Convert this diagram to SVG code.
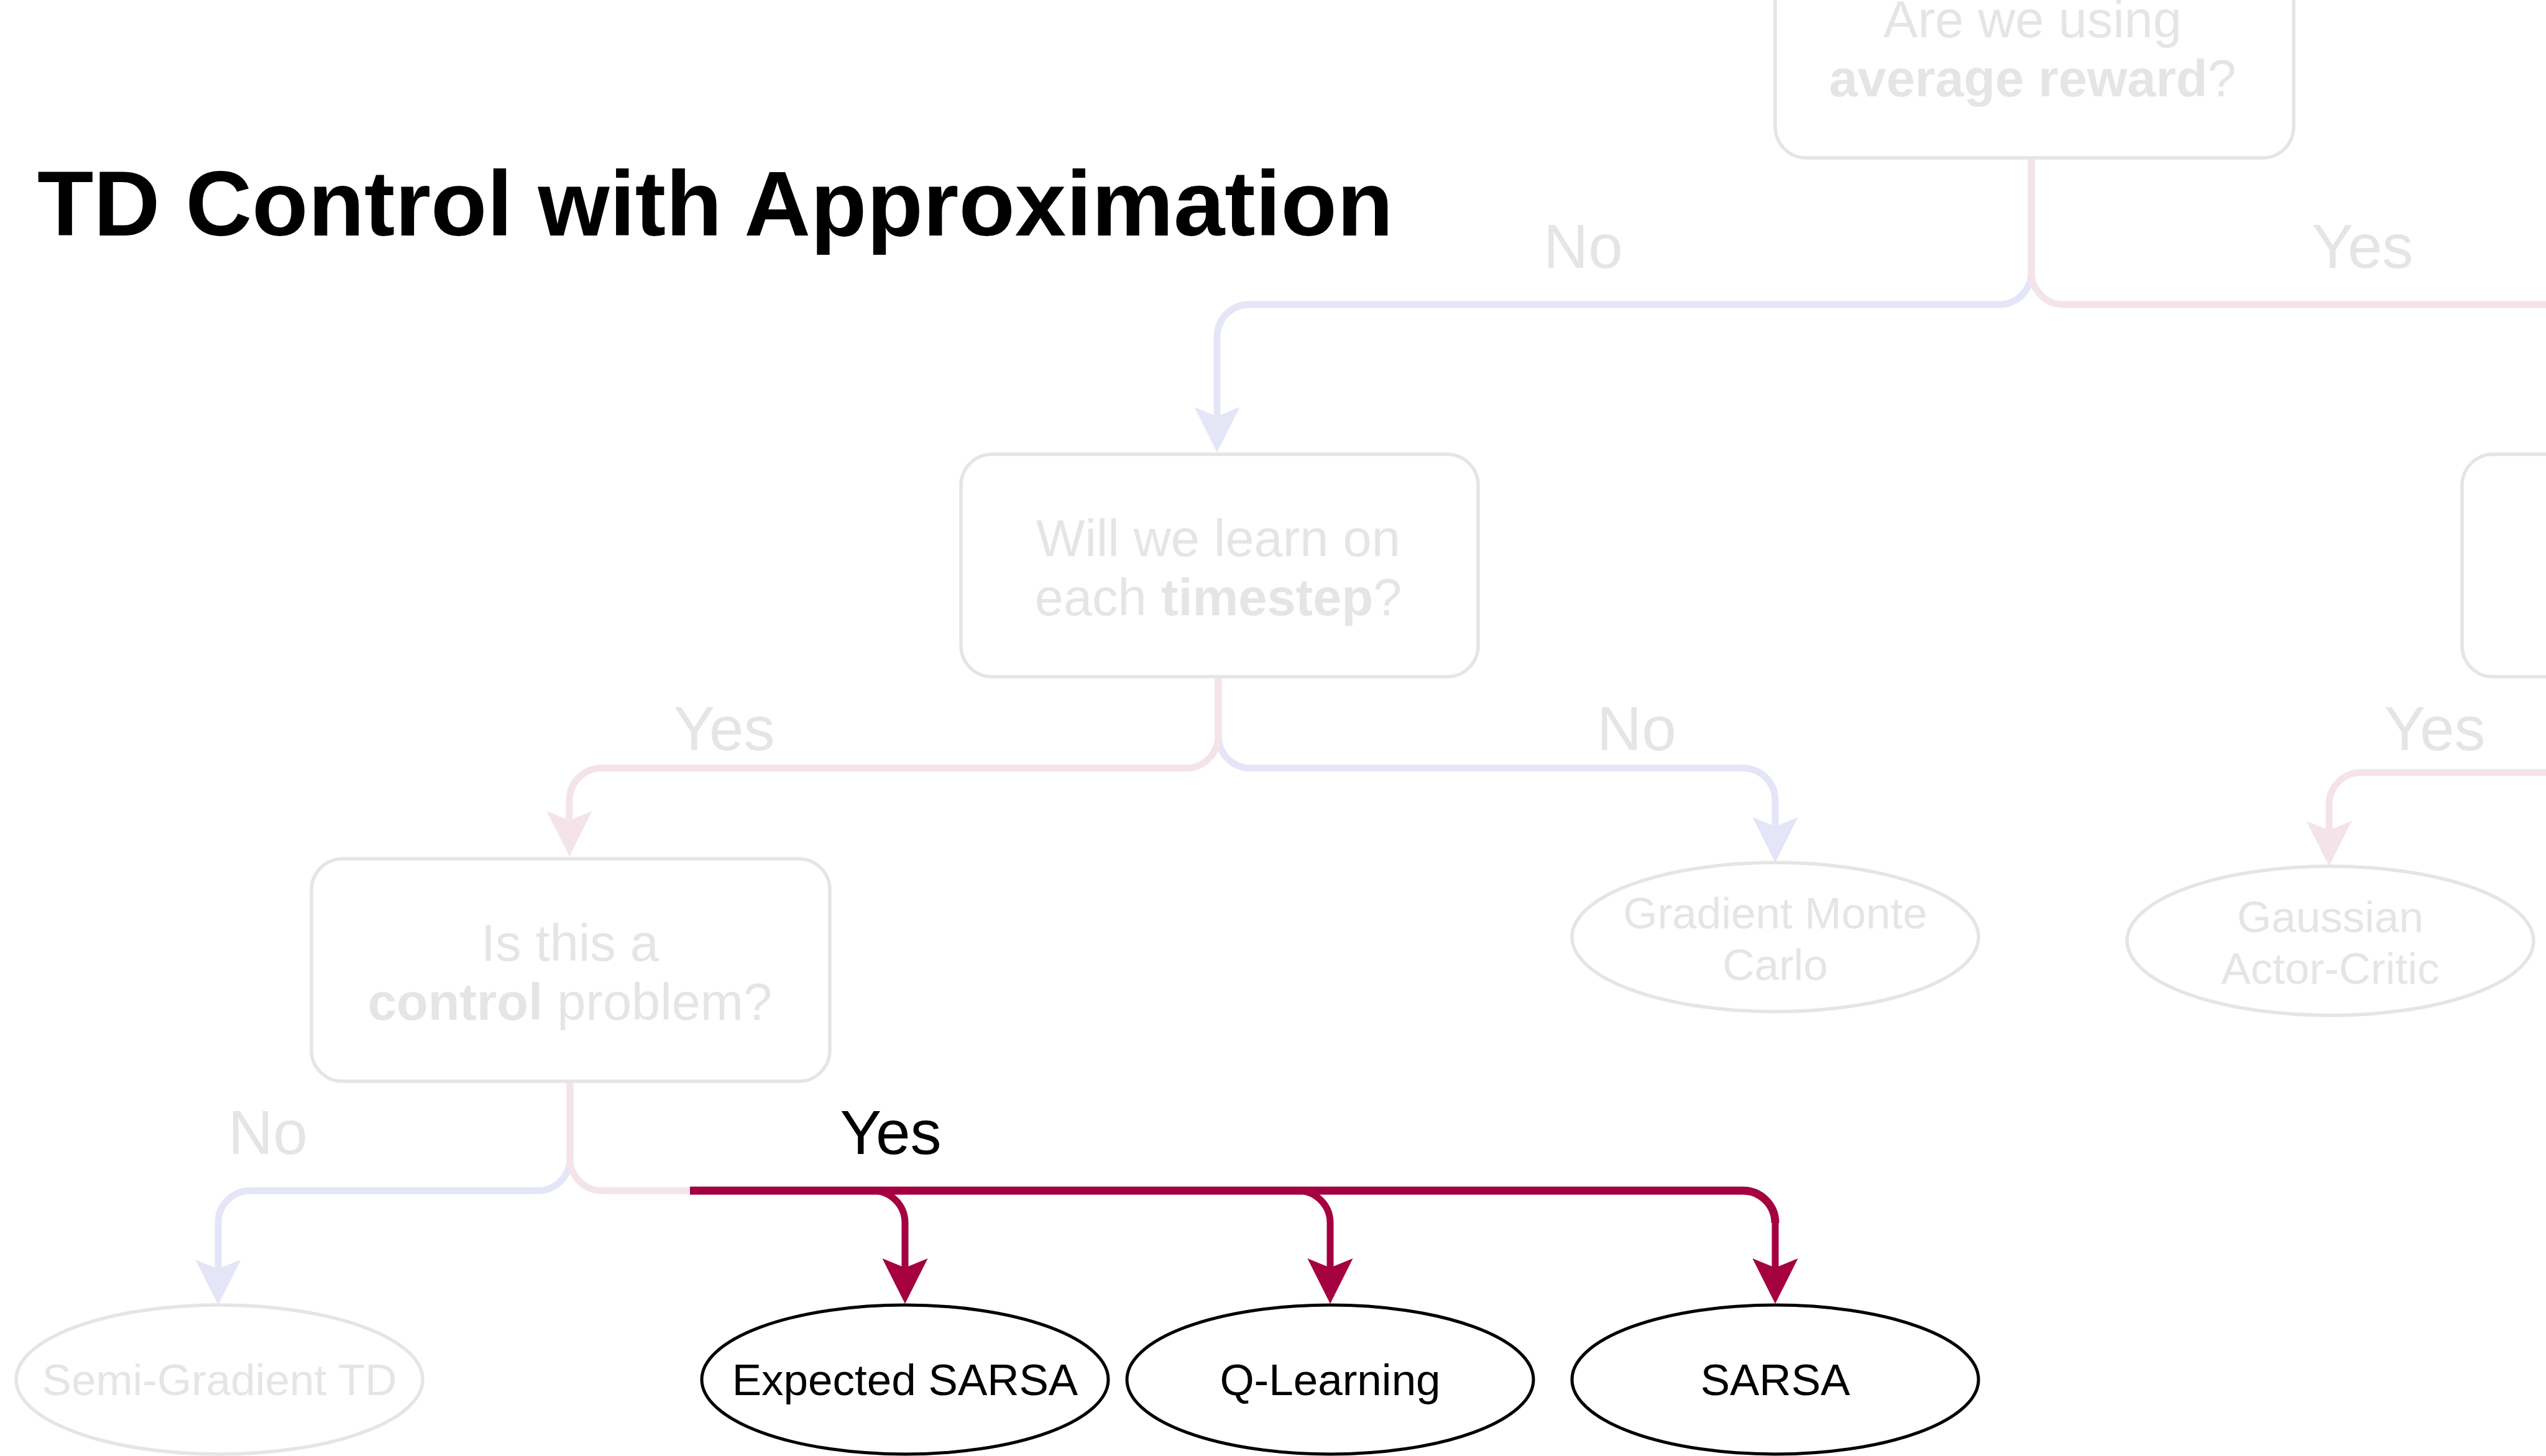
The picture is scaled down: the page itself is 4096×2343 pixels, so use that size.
<svg xmlns="http://www.w3.org/2000/svg" width="4096" height="2343" viewBox="0 0 4096 2343">
<defs>
<style>
text{font-family:"Liberation Sans",Arial,Helvetica,sans-serif;text-anchor:middle}
.title{font-size:148px;font-weight:bold;fill:#000;text-anchor:start}
.q{font-size:83px;fill:#e5e5e5}
.b{font-weight:bold}
.lbl{font-size:100px;fill:#e5e5e5}
.lblon{font-size:100px;fill:#000}
.et{font-size:71px;fill:#e5e5e5}
.eton{font-size:71px;fill:#000}
.box{fill:#fff;stroke:#e5e5e5;stroke-width:5.5}
.ell{fill:#fff;stroke:#e5e5e5;stroke-width:5.5}
.ellon{fill:#fff;stroke:#000;stroke-width:5}
.c{fill:none;stroke-width:11}
.lav{stroke:#e4e5f7}
.pink{stroke:#f4e4ea}
.red{stroke:#a50040;stroke-width:11}
.redmain{stroke:#a50040;stroke-width:13}
</style>
<marker id="aLav" viewBox="0 -40 80 80" markerWidth="80" markerHeight="80" refX="15" refY="0" orient="auto" markerUnits="userSpaceOnUse"><path d="M0,-36.6 L73,0 L0,36.6 L15,0 Z" fill="#e4e5f7"/></marker>
<marker id="aPink" viewBox="0 -40 80 80" markerWidth="80" markerHeight="80" refX="15" refY="0" orient="auto" markerUnits="userSpaceOnUse"><path d="M0,-36.6 L73,0 L0,36.6 L15,0 Z" fill="#f4e4ea"/></marker>
<marker id="aRed" viewBox="0 -40 80 80" markerWidth="80" markerHeight="80" refX="15" refY="0" orient="auto" markerUnits="userSpaceOnUse"><path d="M0,-36.6 L73,0 L0,36.6 L15,0 Z" fill="#a50040"/></marker>
</defs>
<rect width="4096" height="2343" fill="#fff"/>
<text class="title" x="60" y="379">TD Control with Approximation</text>

<g id="connectors">
<path class="c lav" d="M3268 254 V438 A52 52 0 0 1 3216 490 H2010 A52 52 0 0 0 1958 542 V670" marker-end="url(#aLav)"/>
<path class="c pink" d="M3268 254 V438 A52 52 0 0 0 3320 490 H4200"/>
<path class="c lav" d="M1960 1089 V1184 A52 52 0 0 0 2012 1236 H2804 A52 52 0 0 1 2856 1288 V1330" marker-end="url(#aLav)"/>
<path class="c pink" d="M1960 1089 V1184 A52 52 0 0 1 1908 1236 H968 A52 52 0 0 0 916 1288 V1320" marker-end="url(#aPink)"/>
<path class="c pink" d="M4200 1243 H3799 A52 52 0 0 0 3747 1295 V1336" marker-end="url(#aPink)"/>
<path class="c lav" d="M917 1740 V1864 A52 52 0 0 1 865 1916 H403 A52 52 0 0 0 351 1968 V2042" marker-end="url(#aLav)"/>
<path class="c pink" d="M917 1740 V1864 A52 52 0 0 0 969 1916 H1115"/>
<path class="c red" d="M1380 1916 H1404 A52 52 0 0 1 1456 1968 V2040" marker-end="url(#aRed)"/>
<path class="c red" d="M2068 1916 H2088 A52 52 0 0 1 2140 1968 V2040" marker-end="url(#aRed)"/>
<path class="c redmain" d="M1110 1916 H2804 A52 52 0 0 1 2856 1968"/>
<path class="c red" d="M2856 1960 V2040" marker-end="url(#aRed)"/>
<text class="lbl" x="2547" y="431">No</text>
<text class="lbl" x="3801" y="431">Yes</text>
<text class="lbl" x="1165" y="1207">Yes</text>
<text class="lbl" x="2633" y="1207">No</text>
<text class="lbl" x="3917" y="1207">Yes</text>
<text class="lbl" x="431" y="1857">No</text>
<text class="lblon" x="1433" y="1857">Yes</text>
</g>

<g id="node-avg-reward">
<rect class="box" x="2856" y="-104" width="834" height="358" rx="50"/>
<text class="q" x="3270" y="60">Are we using</text>
<text class="q" x="3270" y="155"><tspan class="b">average reward</tspan>?</text>
</g>
<g id="node-timestep">
<rect class="box" x="1546" y="731" width="832" height="358" rx="50"/>
<text class="q" x="1960" y="895">Will we learn on</text>
<text class="q" x="1960" y="990">each <tspan class="b">timestep</tspan>?</text>
</g>
<g id="node-right">
<rect class="box" x="3961" y="731" width="834" height="358" rx="50"/>
</g>
<g id="node-control">
<rect class="box" x="501" y="1382" width="834" height="358" rx="50"/>
<text class="q" x="917" y="1546">Is this a</text>
<text class="q" x="917" y="1641"><tspan class="b">control</tspan> problem?</text>
</g>
<g id="node-gmc">
<ellipse class="ell" cx="2856" cy="1508" rx="327" ry="120"/>
<text class="et" x="2856" y="1494">Gradient Monte</text>
<text class="et" x="2856" y="1577">Carlo</text>
</g>
<g id="node-gac">
<ellipse class="ell" cx="3749" cy="1514" rx="327" ry="120"/>
<text class="et" x="3749" y="1500">Gaussian</text>
<text class="et" x="3749" y="1583">Actor-Critic</text>
</g>
<g id="node-sgtd">
<ellipse class="ell" cx="353" cy="2220" rx="327" ry="120"/>
<text class="et" x="353" y="2245">Semi-Gradient TD</text>
</g>
<g id="node-esarsa">
<ellipse class="ellon" cx="1456" cy="2220" rx="327" ry="120"/>
<text class="eton" x="1456" y="2245">Expected SARSA</text>
</g>
<g id="node-qlearning">
<ellipse class="ellon" cx="2140" cy="2220" rx="327" ry="120"/>
<text class="eton" x="2140" y="2245">Q-Learning</text>
</g>
<g id="node-sarsa">
<ellipse class="ellon" cx="2856" cy="2220" rx="327" ry="120"/>
<text class="eton" x="2856" y="2245">SARSA</text>
</g>
</svg>
